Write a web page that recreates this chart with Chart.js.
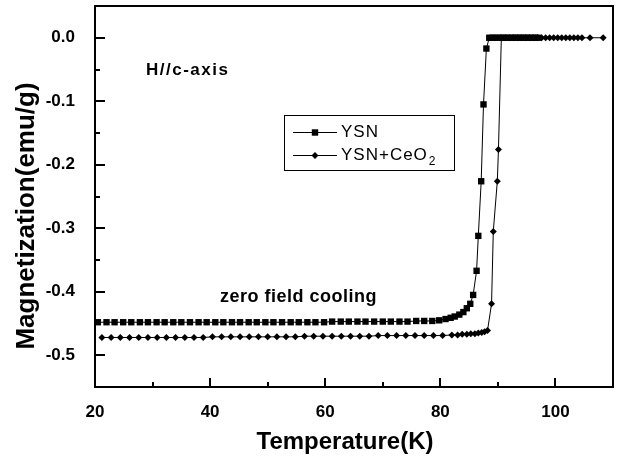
<!DOCTYPE html>
<html>
<head>
<meta charset="utf-8">
<script src="https://cdn.jsdelivr.net/npm/chart.js@4.4.0/dist/chart.umd.min.js"></script>
<style>
  html, body { margin: 0; padding: 0; background: #fff; }
</style>
</head>
<body>
<canvas id="magChart" width="618" height="461"></canvas>
<script>
// values
const ysnTemp = [20.5, 22.0, 23.4, 24.9, 26.3, 27.8, 29.2, 30.7, 32.1, 33.6,
                 35.0, 36.5, 38.0, 39.4, 40.9, 42.3, 43.8, 45.2, 46.7, 48.1,
                 49.6, 51.0, 52.5, 54.0, 55.4, 56.9, 58.3, 59.8, 61.2, 62.7,
                 64.1, 65.6, 67.0, 68.5, 70.0, 71.4, 72.9, 74.3, 75.8, 77.2,
                 78.6, 79.8, 80.9, 81.8, 82.5, 83.3, 84.0, 84.6, 85.2, 85.7,
                 86.3, 86.6, 87.1, 87.5, 88.0,
                 88.5, 89.0, 89.5, 90.0, 90.5, 91.0, 91.5, 92.0, 92.5, 93.0,
                 93.5, 94.0, 94.5, 95.0, 95.5, 96.0, 96.5, 97.0];
const ysnMag = [-0.448, -0.448, -0.448, -0.448, -0.448, -0.448, -0.448, -0.448, -0.448, -0.448,
                -0.448, -0.448, -0.448, -0.448, -0.448, -0.448, -0.448, -0.448, -0.448, -0.448,
                -0.448, -0.448, -0.448, -0.448, -0.448, -0.448, -0.448, -0.448, -0.447, -0.447,
                -0.447, -0.447, -0.447, -0.447, -0.447, -0.447, -0.447, -0.447, -0.446, -0.446,
                -0.446, -0.445, -0.443, -0.441, -0.439, -0.436, -0.432, -0.426, -0.419, -0.405,
                -0.367, -0.312, -0.226, -0.105, -0.017,
                0, 0, 0, 0, 0, 0, 0, 0, 0, 0,
                0, 0, 0, 0, 0, 0, 0, 0];

const ceoTemp = [21.2, 22.8, 24.4, 26.0, 27.6, 29.2, 30.8, 32.4, 34.0, 35.6,
                 37.2, 38.8, 40.4, 42.0, 43.6, 45.2, 46.8, 48.4, 50.0, 51.6,
                 53.2, 54.8, 56.4, 58.0, 59.6, 61.2, 62.8, 64.4, 66.0, 67.6,
                 69.2, 70.8, 72.4, 74.0, 75.6, 77.2, 78.8, 80.4,
                 82.0, 83.0, 83.8, 84.6, 85.3, 86.0, 86.6, 87.2, 87.7, 88.2,
                 88.9, 89.2, 89.9, 90.1,
                 90.6, 91.3, 92.0, 92.7, 93.4, 94.1, 94.8, 95.5, 96.2, 96.9,
                 97.6, 98.3, 99.0, 99.7, 100.4, 101.1, 101.8, 102.5, 103.2, 103.9,
                 104.6, 106.0, 108.3];
const ceoMag = [-0.472, -0.472, -0.472, -0.472, -0.472, -0.472, -0.472, -0.472, -0.472, -0.472,
                -0.472, -0.472, -0.471, -0.471, -0.471, -0.471, -0.471, -0.471, -0.471, -0.471,
                -0.471, -0.471, -0.470, -0.470, -0.470, -0.470, -0.470, -0.470, -0.470, -0.470,
                -0.469, -0.469, -0.469, -0.469, -0.469, -0.469, -0.469, -0.469,
                -0.468, -0.468, -0.467, -0.467, -0.466, -0.466, -0.465, -0.464, -0.463, -0.461,
                -0.419, -0.305, -0.226, -0.176,
                0, 0, 0, 0, 0, 0, 0, 0, 0, 0,
                0, 0, 0, 0, 0, 0, 0, 0, 0, 0,
                0, 0, 0];

const xTicks = [20, 40, 60, 80, 100];
const xMinor = [30, 50, 70, 90];
const yTicks = [0.0, -0.1, -0.2, -0.3, -0.4, -0.5];
const yMinor = [-0.05, -0.15, -0.25, -0.35, -0.45];

const FONT = "'Liberation Sans', Arial, sans-serif";

function toPoints(xs, ys) {
    return xs.map((x, i) => ({ x: x, y: ys[i] }));
}

function drawSquare(ctx, x, y) {
    ctx.fillRect(x - 3.2, y - 3.2, 6.4, 6.4);
}

function drawDiamond(ctx, x, y) {
    ctx.beginPath();
    ctx.moveTo(x - 3.5, y);
    ctx.lineTo(x, y - 3.5);
    ctx.lineTo(x + 3.5, y);
    ctx.lineTo(x, y + 3.5);
    ctx.closePath();
    ctx.fill();
}

// frame, inward ticks, titles, notes and the boxed legend
const decorations = {
    id: 'decorations',
    afterDatasetsDraw(chart) {
        const { ctx, chartArea: a, scales: { x, y } } = chart;
        ctx.save();
        ctx.strokeStyle = '#000';
        ctx.fillStyle = '#000';
        ctx.lineWidth = 2;
        ctx.strokeRect(a.left, a.top, a.right - a.left, a.bottom - a.top);

        ctx.beginPath();
        xTicks.forEach(v => {
            const px = Math.round(x.getPixelForValue(v));
            ctx.moveTo(px, a.bottom); ctx.lineTo(px, a.bottom - 9);
        });
        xMinor.forEach(v => {
            const px = Math.round(x.getPixelForValue(v));
            ctx.moveTo(px, a.bottom); ctx.lineTo(px, a.bottom - 5);
        });
        yTicks.forEach(v => {
            const py = Math.round(y.getPixelForValue(v));
            ctx.moveTo(a.left, py); ctx.lineTo(a.left + 10, py);
        });
        yMinor.forEach(v => {
            const py = Math.round(y.getPixelForValue(v));
            ctx.moveTo(a.left, py); ctx.lineTo(a.left + 5, py);
        });
        ctx.stroke();

        // axis titles
        ctx.textAlign = 'center';
        ctx.textBaseline = 'middle';
        ctx.font = 'bold 24px ' + FONT;
        ctx.fillText('Temperature(K)', 345, 442);
        ctx.save();
        ctx.translate(27, 216);
        ctx.rotate(-Math.PI / 2);
        ctx.font = 'bold 26px ' + FONT;
        ctx.fillText('Magnetization(emu/g)', 0, 0);
        ctx.restore();

        // notes inside the plot
        ctx.textAlign = 'left';
        ctx.font = 'bold 17px ' + FONT;
        ctx.letterSpacing = '1.5px';
        ctx.fillText('H//c-axis', 146, 70);
        ctx.letterSpacing = '0.5px';
        ctx.font = 'bold 18px ' + FONT;
        ctx.fillText('zero field cooling', 220, 297);

        // legend
        ctx.lineWidth = 1;
        ctx.strokeRect(284.5, 115.5, 170, 55);
        ctx.beginPath();
        ctx.moveTo(293, 132.5); ctx.lineTo(337, 132.5);
        ctx.moveTo(293, 155.5); ctx.lineTo(337, 155.5);
        ctx.stroke();
        drawSquare(ctx, 315, 132.5);
        drawDiamond(ctx, 315, 155.5);
        ctx.font = '17px ' + FONT;
        ctx.letterSpacing = '1px';
        ctx.fillText('YSN', 341, 132);
        ctx.fillText('YSN+CeO', 341, 155);
        const w = ctx.measureText('YSN+CeO').width;
        ctx.font = '12px ' + FONT;
        ctx.letterSpacing = '0px';
        ctx.fillText('2', 342 + w, 162);
        ctx.restore();
    }
};

const ctx = document.getElementById('magChart').getContext('2d');
const magChart = new Chart(ctx, {
    type: 'scatter',
    data: {
        datasets: [{
            label: 'YSN',
            data: toPoints(ysnTemp, ysnMag),
            showLine: true,
            borderColor: '#000',
            borderWidth: 1,
            pointStyle: 'rect',
            pointRadius: 4.5,
            pointBackgroundColor: '#000',
            pointBorderWidth: 0
        }, {
            label: 'YSN+CeO2',
            data: toPoints(ceoTemp, ceoMag),
            showLine: true,
            borderColor: '#000',
            borderWidth: 1,
            pointStyle: 'rectRot',
            pointRadius: 3.5,
            pointBackgroundColor: '#000',
            pointBorderWidth: 0
        }]
    },
    options: {
        responsive: false,
        animation: false,
        events: [],
        layout: { padding: { top: 6, right: 5, left: 0, bottom: 0 } },
        plugins: {
            legend: { display: false },
            tooltip: { enabled: false }
        },
        scales: {
            x: {
                type: 'linear',
                min: 20,
                max: 110,
                afterBuildTicks: scale => { scale.ticks = xTicks.map(v => ({ value: v })); },
                afterFit: scale => { scale.height = 74; scale.paddingLeft = 0; scale.paddingRight = 0; },
                grid: { display: false },
                border: { display: false },
                ticks: {
                    color: '#000',
                    padding: 7,
                    maxRotation: 0,
                    font: { family: FONT, size: 17, weight: 'bold' }
                }
            },
            y: {
                type: 'linear',
                min: -0.55,
                max: 0.05,
                afterBuildTicks: scale => { scale.ticks = yTicks.map(v => ({ value: v })); },
                afterFit: scale => { scale.width = 95; scale.paddingTop = 0; scale.paddingBottom = 0; },
                grid: { display: false },
                border: { display: false },
                ticks: {
                    color: '#000',
                    padding: 12,
                    font: { family: FONT, size: 17, weight: 'bold' },
                    callback: v => v.toFixed(1)
                }
            }
        }
    },
    plugins: [decorations]
});
</script>
</body>
</html>
